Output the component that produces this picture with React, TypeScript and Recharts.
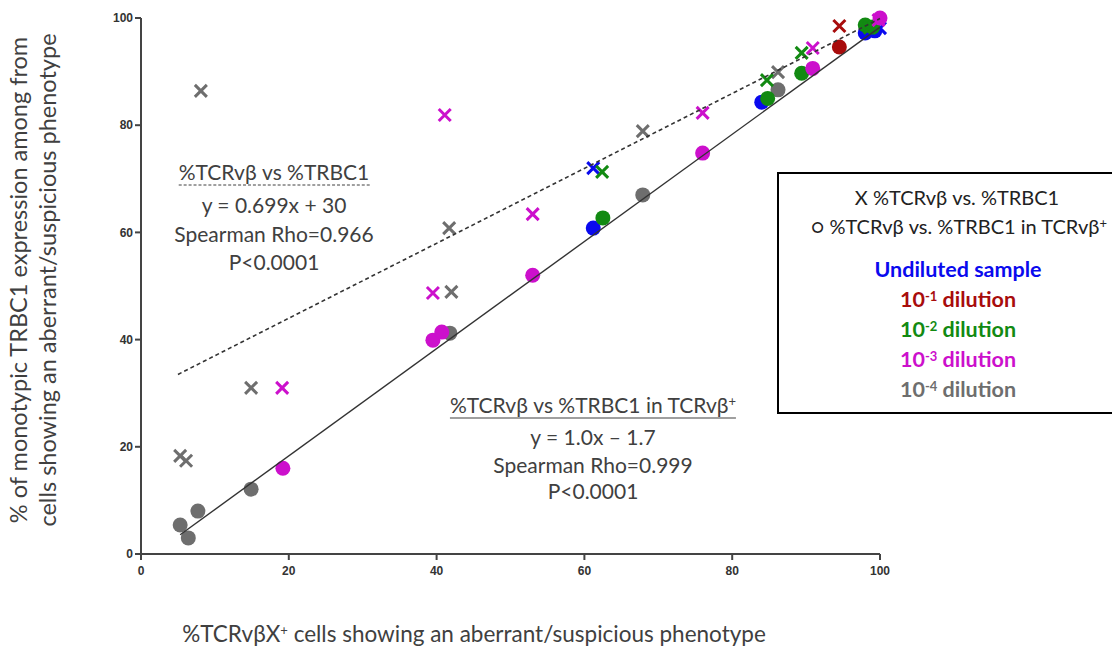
import React from "react";
import { ScatterChart, Scatter, XAxis, YAxis } from "recharts";

type Pt = { x: number; y: number };

const xTicks = [0, 20, 40, 60, 80, 100];
const yTicks = [0, 20, 40, 60, 80, 100];

// X markers: %TCRvβ vs %TRBC1
const undilutedX: Pt[] = [
  { x: 61.2, y: 72.0 },
  { x: 100, y: 98.1 },
];
const dil1X: Pt[] = [{ x: 94.5, y: 98.5 }];
const dil2X: Pt[] = [
  { x: 62.4, y: 71.3 },
  { x: 84.7, y: 88.4 },
  { x: 89.4, y: 93.5 },
  { x: 98.6, y: 98.2 },
];
const dil3X: Pt[] = [
  { x: 19.1, y: 31.0 },
  { x: 39.5, y: 48.7 },
  { x: 41.1, y: 81.9 },
  { x: 53.0, y: 63.4 },
  { x: 76.0, y: 82.3 },
  { x: 90.9, y: 94.4 },
  { x: 99.8, y: 99.6 },
];
const dil4X: Pt[] = [
  { x: 5.3, y: 18.3 },
  { x: 6.1, y: 17.4 },
  { x: 8.1, y: 86.4 },
  { x: 14.9, y: 31.0 },
  { x: 41.7, y: 60.8 },
  { x: 42.0, y: 48.9 },
  { x: 67.9, y: 78.9 },
  { x: 86.2, y: 89.9 },
];

// circles: %TCRvβ vs %TRBC1 in TCRvβ+
const undilutedO: Pt[] = [
  { x: 61.2, y: 60.8 },
  { x: 84.0, y: 84.3 },
  { x: 98.0, y: 97.2 },
  { x: 99.3, y: 97.6 },
];
const dil1O: Pt[] = [{ x: 94.5, y: 94.6 }];
const dil2O: Pt[] = [
  { x: 62.5, y: 62.7 },
  { x: 84.8, y: 85.0 },
  { x: 89.4, y: 89.7 },
  { x: 98.0, y: 98.7 },
  { x: 99.0, y: 98.3 },
];
const dil3O: Pt[] = [
  { x: 19.2, y: 16.0 },
  { x: 39.5, y: 39.9 },
  { x: 40.7, y: 41.4 },
  { x: 53.0, y: 52.0 },
  { x: 76.0, y: 74.8 },
  { x: 90.9, y: 90.6 },
  { x: 100, y: 100 },
];
const dil4O: Pt[] = [
  { x: 5.3, y: 5.4 },
  { x: 6.4, y: 3.0 },
  { x: 7.7, y: 8.0 },
  { x: 14.9, y: 12.1 },
  { x: 41.8, y: 41.2 },
  { x: 67.9, y: 67.0 },
  { x: 86.2, y: 86.6 },
];

// fit line end points (y = 0.699x + 30 and y = 1.0x - 1.7)
const dashedFit: Pt[] = [
  { x: 5, y: 33.5 },
  { x: 100, y: 99.9 },
];
const solidFit: Pt[] = [
  { x: 5.3, y: 3.6 },
  { x: 100, y: 98.3 },
];

const BLUE = "#0a0aee";
const RED = "#a80c0c";
const GREEN = "#128a12";
const MAGENTA = "#cc10cc";
const GRAY = "#6e6e6e";

const dot = (color: string) => (p: any) =>
  <circle cx={p.cx} cy={p.cy} r={7.5} fill={color} />;

const cross = (color: string) => (p: any) => (
  <path
    d={`M${p.cx - 6},${p.cy - 6}L${p.cx + 6},${p.cy + 6}M${p.cx + 6},${p.cy - 6}L${p.cx - 6},${p.cy + 6}`}
    stroke={color}
    strokeWidth={3}
    fill="none"
  />
);

const noShape = () => <g />;

const FONT = "Lato, 'Open Sans', sans-serif";
const TXT = "#404040";

function Centered({
  x,
  y,
  children,
  style,
}: {
  x: number;
  y: number;
  children: React.ReactNode;
  style?: React.CSSProperties;
}) {
  return (
    <div
      style={{
        position: "absolute",
        left: x,
        top: y,
        transform: "translate(-50%, -50%)",
        whiteSpace: "nowrap",
        lineHeight: 1,
        ...style,
      }}
    >
      {children}
    </div>
  );
}

const sup = { fontSize: 13, verticalAlign: "0.5em", lineHeight: 0 } as React.CSSProperties;

export default function App() {
  const tick = {
    fill: "#333",
    fontSize: 12,
    fontWeight: 700,
    fontFamily: "'Liberation Sans Narrow', 'Liberation Sans', Arial",
  };
  return (
    <div
      style={{
        position: "absolute",
        left: 0,
        top: 0,
        width: 1112,
        height: 647,
        overflow: "hidden",
        background: "#fff",
        fontFamily: FONT,
        color: TXT,
        fontSize: 21,
      }}
    >
      <ScatterChart
        width={1112}
        height={647}
        margin={{ top: 18, right: 232, bottom: 0, left: 0 }}
      >
        <XAxis
          type="number"
          dataKey="x"
          domain={[0, 100]}
          ticks={xTicks}
          height={93}
          tick={tick}
          tickSize={6}
          tickMargin={6}
          axisLine={{ stroke: "#444", strokeWidth: 2 }}
          tickLine={{ stroke: "#444", strokeWidth: 2 }}
        />
        <YAxis
          type="number"
          dataKey="y"
          domain={[0, 100]}
          ticks={yTicks}
          width={141}
          tick={tick}
          tickSize={6}
          tickMargin={2}
          axisLine={{ stroke: "#444", strokeWidth: 2 }}
          tickLine={{ stroke: "#444", strokeWidth: 2 }}
        />
        <Scatter data={dil4O} shape={dot(GRAY)} isAnimationActive={false} />
        <Scatter data={dil4X} shape={cross(GRAY)} isAnimationActive={false} />
        <Scatter data={undilutedO} shape={dot(BLUE)} isAnimationActive={false} />
        <Scatter data={undilutedX} shape={cross(BLUE)} isAnimationActive={false} />
        <Scatter data={dil2O} shape={dot(GREEN)} isAnimationActive={false} />
        <Scatter data={dil2X} shape={cross(GREEN)} isAnimationActive={false} />
        <Scatter data={dil1O} shape={dot(RED)} isAnimationActive={false} />
        <Scatter data={dil1X} shape={cross(RED)} isAnimationActive={false} />
        <Scatter data={dil3O} shape={dot(MAGENTA)} isAnimationActive={false} />
        <Scatter data={dil3X} shape={cross(MAGENTA)} isAnimationActive={false} />
        <Scatter
          data={dashedFit}
          line={{ stroke: "#333", strokeWidth: 1.6, strokeDasharray: "4 3" }}
          shape={noShape}
          isAnimationActive={false}
        />
        <Scatter
          data={solidFit}
          line={{ stroke: "#333", strokeWidth: 1.4 }}
          shape={noShape}
          isAnimationActive={false}
        />
      </ScatterChart>

      {/* axis titles */}
      <div
        style={{
          position: "absolute",
          left: 33,
          top: 280,
          transform: "translate(-50%, -50%) rotate(-90deg)",
          whiteSpace: "nowrap",
          textAlign: "center",
          lineHeight: "29px",
          fontSize: 23.5,
        }}
      >
        % of monotypic TRBC1 expression among from
        <br />
        cells showing an aberrant/suspicious phenotype
      </div>
      <Centered x={474} y={634} style={{ fontSize: 22.5 }}>
        %TCRvβX<span style={sup}>+</span> cells showing an aberrant/suspicious phenotype
      </Centered>

      {/* fit annotations */}
      <Centered x={274} y={171}>
        <span style={{ borderBottom: "1.5px dashed #404040", paddingBottom: 1 }}>
          %TCRvβ vs %TRBC1
        </span>
      </Centered>
      <Centered x={274} y={204}>y = 0.699x + 30</Centered>
      <Centered x={274} y={233}>Spearman Rho=0.966</Centered>
      <Centered x={274} y={261}>P&lt;0.0001</Centered>

      <Centered x={593} y={404}>
        <span style={{ borderBottom: "1.5px solid #404040", paddingBottom: 1 }}>
          %TCRvβ vs %TRBC1 in TCRvβ<span style={sup}>+</span>
        </span>
      </Centered>
      <Centered x={593} y={436}>y = 1.0x – 1.7</Centered>
      <Centered x={593} y={464}>Spearman Rho=0.999</Centered>
      <Centered x={593} y={490}>P&lt;0.0001</Centered>

      {/* legend box */}
      <div
        style={{
          position: "absolute",
          left: 777,
          top: 172,
          width: 360,
          height: 242,
          border: "2px solid #000",
          boxSizing: "border-box",
        }}
      />
      <Centered x={957} y={197} style={{ color: "#222", fontSize: 20 }}>
        X %TCRvβ vs. %TRBC1
      </Centered>
      <Centered x={959} y={226} style={{ color: "#222", fontSize: 20 }}>
        ○ %TCRvβ vs. %TRBC1 in TCRvβ<span style={sup}>+</span>
      </Centered>
      <Centered x={958} y={270} style={{ color: BLUE, fontWeight: 700, fontSize: 21.5 }}>
        Undiluted sample
      </Centered>
      <Centered x={958} y={300} style={{ color: RED, fontWeight: 700, fontSize: 21.5 }}>
        10<span style={sup}>-1</span> dilution
      </Centered>
      <Centered x={958} y={330} style={{ color: GREEN, fontWeight: 700, fontSize: 21.5 }}>
        10<span style={sup}>-2</span> dilution
      </Centered>
      <Centered x={958} y={360} style={{ color: MAGENTA, fontWeight: 700, fontSize: 21.5 }}>
        10<span style={sup}>-3</span> dilution
      </Centered>
      <Centered x={958} y={390} style={{ color: GRAY, fontWeight: 700, fontSize: 21.5 }}>
        10<span style={sup}>-4</span> dilution
      </Centered>
    </div>
  );
}
